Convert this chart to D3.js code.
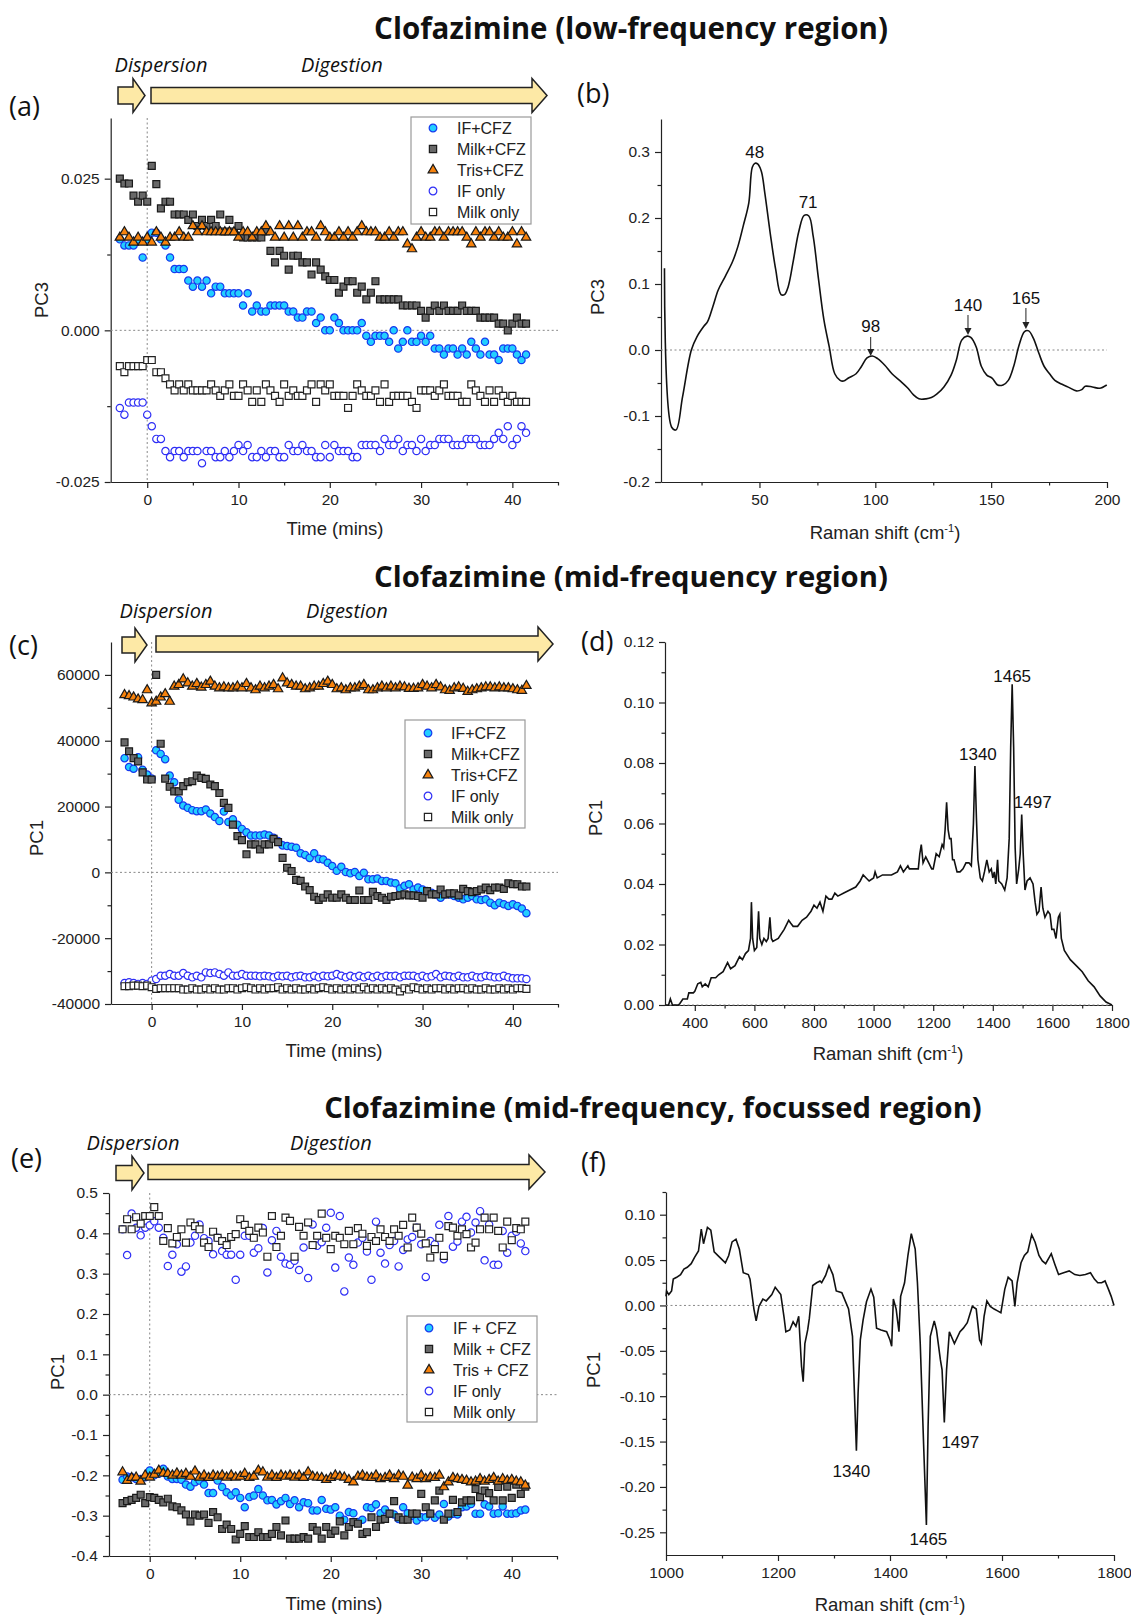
<!DOCTYPE html>
<html lang="en">
<head>
<meta charset="UTF-8" />
<title>Clofazimine PCA</title>
<script src="https://cdnjs.cloudflare.com/ajax/libs/d3/7.8.4/d3.min.js"></script>
<style>
  body { margin: 0; background: #fff; }
  svg { display: block; font-family: "Liberation Sans", Arial, sans-serif; }
  .axis path, .axis line { stroke: #222; stroke-width: 1.2px; }
  .axis text { font-size: 15.5px; fill: #222; font-family: "Liberation Sans", Arial, sans-serif; }
  .zero { stroke: #888; stroke-width: 1px; stroke-dasharray: 2,2.5; fill: none; }
  .title { font-family: "Open Sans", sans-serif; font-weight: bold; font-size: 28px; fill: #111; }
  .plabel { font-family: "Open Sans", sans-serif; font-size: 27px; fill: #111; }
  .phase { font-family: "Open Sans", sans-serif; font-style: italic; font-size: 20px; fill: #111; }
  .atitle { font-size: 18.5px; fill: #222; }
  .legend text { font-size: 16px; fill: #222; }
  .peak { font-size: 17px; fill: #111; }
  .spec { fill: none; stroke: #111; stroke-width: 1.6px; }
  .arrow { fill: #fde9a6; stroke: #222; stroke-width: 1.5px; }
</style>
</head>
<body>
<svg width="1131" height="1615"></svg>
<script>
// sampling times (min) shared by the three time-course panels
const timeMin = [-3,-2.5,-2,-1.5,-1,-0.5,0,0.5,1,1.5,2,2.5,3,3.5,4,4.5,5,5.5,6,6.5,7,7.5,8,8.5,9,9.5,10,10.5,11,11.5,
  12,12.5,13,13.5,14,14.5,15,15.5,16,16.5,17,17.5,18,18.5,19,19.5,20,20.5,21,21.5,22,22.5,23,23.5,24,24.5,25,25.5,26,26.5,
  27,27.5,28,28.5,29,29.5,30,30.5,31,31.5,32,32.5,33,33.5,34,34.5,35,35.5,36,36.5,37,37.5,38,38.5,39,39.5,40,40.5,41,41.5];

// (a) PC3 scores, low-frequency region
const aIfCfz = [0.0150,0.0140,0.0140,0.0140,0.0150,0.0120,0.0150,0.0161,0.0161,0.0150,
  0.0140,0.0120,0.0101,0.0101,0.0101,0.0082,0.0072,0.0082,0.0072,0.0082,
  0.0061,0.0072,0.0072,0.0061,0.0061,0.0061,0.0061,0.0041,0.0061,0.0031,
  0.0041,0.0031,0.0031,0.0041,0.0041,0.0041,0.0041,0.0031,0.0031,0.0021,
  0.0021,0.0031,0.0031,0.0012,0.0021,0.0000,0.0000,0.0021,0.0012,0.0000,
  0.0000,0.0000,0.0000,0.0012,-0.0009,-0.0019,-0.0009,-0.0009,-0.0009,-0.0019,
  0.0000,-0.0030,-0.0019,0.0000,-0.0019,-0.0019,-0.0009,-0.0019,-0.0009,-0.0030,
  -0.0030,-0.0040,-0.0030,-0.0030,-0.0040,-0.0030,-0.0040,-0.0019,-0.0030,-0.0040,
  -0.0019,-0.0040,-0.0040,-0.0049,-0.0030,-0.0030,-0.0030,-0.0040,-0.0049,-0.0040];
const aMilkCfz = [0.0250,0.0242,0.0242,0.0222,0.0212,0.0222,0.0212,0.0271,0.0241,0.0201,
  0.0212,0.0212,0.0191,0.0191,0.0191,0.0182,0.0191,0.0172,0.0182,0.0172,
  0.0182,0.0172,0.0191,0.0163,0.0182,0.0163,0.0172,0.0153,0.0153,0.0153,
  0.0153,0.0153,0.0163,0.0131,0.0112,0.0131,0.0123,0.0100,0.0123,0.0123,
  0.0112,0.0112,0.0092,0.0112,0.0100,0.0089,0.0083,0.0083,0.0062,0.0072,
  0.0081,0.0081,0.0062,0.0072,0.0051,0.0062,0.0081,0.0051,0.0051,0.0051,
  0.0051,0.0051,0.0041,0.0041,0.0041,0.0041,0.0032,0.0021,0.0032,0.0041,
  0.0032,0.0041,0.0032,0.0032,0.0032,0.0041,0.0032,0.0032,0.0032,0.0021,
  0.0021,0.0021,0.0021,0.0011,0.0011,0.0000,0.0011,0.0021,0.0011,0.0011];
const aTrisCfz = [0.0153,0.0162,0.0153,0.0145,0.0153,0.0145,0.0153,0.0145,0.0162,0.0153,
  0.0145,0.0153,0.0153,0.0162,0.0153,0.0153,0.0172,0.0162,0.0172,0.0162,
  0.0162,0.0162,0.0162,0.0162,0.0162,0.0162,0.0153,0.0162,0.0162,0.0153,
  0.0162,0.0162,0.0172,0.0162,0.0153,0.0172,0.0153,0.0172,0.0153,0.0172,
  0.0153,0.0162,0.0162,0.0153,0.0172,0.0162,0.0153,0.0153,0.0162,0.0153,
  0.0162,0.0153,0.0162,0.0172,0.0162,0.0162,0.0162,0.0153,0.0153,0.0162,
  0.0153,0.0162,0.0162,0.0142,0.0134,0.0153,0.0162,0.0153,0.0153,0.0162,
  0.0162,0.0153,0.0162,0.0162,0.0162,0.0162,0.0153,0.0142,0.0162,0.0153,
  0.0162,0.0162,0.0153,0.0162,0.0153,0.0153,0.0162,0.0142,0.0162,0.0153];
const aIfOnly = [-0.0128,-0.0139,-0.0119,-0.0119,-0.0119,-0.0119,-0.0139,-0.0158,-0.0179,-0.0179,
  -0.0199,-0.0209,-0.0199,-0.0199,-0.0209,-0.0199,-0.0199,-0.0199,-0.0219,-0.0199,
  -0.0199,-0.0209,-0.0209,-0.0199,-0.0209,-0.0199,-0.0189,-0.0199,-0.0189,-0.0209,
  -0.0209,-0.0199,-0.0209,-0.0199,-0.0199,-0.0209,-0.0209,-0.0189,-0.0199,-0.0199,
  -0.0189,-0.0199,-0.0199,-0.0209,-0.0209,-0.0189,-0.0209,-0.0189,-0.0199,-0.0199,
  -0.0199,-0.0209,-0.0209,-0.0189,-0.0189,-0.0189,-0.0189,-0.0199,-0.0179,-0.0189,
  -0.0189,-0.0179,-0.0199,-0.0189,-0.0189,-0.0199,-0.0179,-0.0199,-0.0189,-0.0189,
  -0.0179,-0.0179,-0.0179,-0.0189,-0.0189,-0.0189,-0.0179,-0.0179,-0.0179,-0.0189,
  -0.0189,-0.0189,-0.0179,-0.0169,-0.0179,-0.0158,-0.0189,-0.0179,-0.0158,-0.0169];
const aMilkOnly = [-0.0059,-0.0069,-0.0059,-0.0059,-0.0059,-0.0059,-0.0049,-0.0049,-0.0069,-0.0069,
  -0.0079,-0.0089,-0.0099,-0.0089,-0.0099,-0.0089,-0.0099,-0.0099,-0.0099,-0.0099,
  -0.0089,-0.0099,-0.0108,-0.0099,-0.0089,-0.0108,-0.0108,-0.0089,-0.0099,-0.0118,
  -0.0099,-0.0118,-0.0089,-0.0099,-0.0108,-0.0118,-0.0089,-0.0108,-0.0099,-0.0108,
  -0.0108,-0.0099,-0.0089,-0.0118,-0.0089,-0.0099,-0.0089,-0.0108,-0.0108,-0.0108,
  -0.0128,-0.0108,-0.0089,-0.0099,-0.0108,-0.0108,-0.0099,-0.0118,-0.0089,-0.0118,
  -0.0108,-0.0108,-0.0108,-0.0108,-0.0118,-0.0128,-0.0099,-0.0099,-0.0099,-0.0108,
  -0.0099,-0.0089,-0.0108,-0.0108,-0.0108,-0.0118,-0.0118,-0.0089,-0.0099,-0.0108,
  -0.0118,-0.0099,-0.0118,-0.0099,-0.0108,-0.0118,-0.0108,-0.0118,-0.0118,-0.0118];

// (c) PC1 scores, mid-frequency region
const cIfCfz = [34700,32000,31500,35000,31200,29700,28500,37100,36000,34400,
  29400,27400,22100,20300,19600,18900,18600,18600,19100,17900,
  16800,15600,18500,15300,16100,14500,13200,12200,11200,11200,
  11200,11500,11200,10500,9500,8200,8000,7800,7500,5800,
  5300,4400,5800,4100,3900,2900,1900,500,1700,100,
  -300,100,-1100,-100,-2100,-2100,-1900,-2600,-2600,-3100,
  -3300,-4900,-4100,-3600,-5200,-4600,-5200,-5700,-6200,-6700,
  -7700,-6700,-6700,-7200,-7700,-8200,-7700,-7200,-8200,-8400,
  -8200,-9200,-10000,-9200,-9700,-10200,-9700,-10200,-11000,-12400];
const cMilkCfz = [39500,36800,34700,33700,30400,28200,28200,60000,39100,28500,
  26000,24600,24600,26200,27400,27700,29400,28700,28400,26700,
  26200,24100,21100,19600,14500,11000,9800,5500,8500,8500,
  7000,8500,8500,10200,9200,4400,1400,400,-2300,-2600,
  -4300,-5400,-7400,-8400,-7700,-6700,-7700,-7700,-6700,-7700,
  -8400,-8400,-5500,-8400,-8400,-5900,-7200,-7700,-8400,-7400,
  -7200,-7000,-6700,-7000,-7000,-7200,-7700,-5700,-6700,-6700,
  -5200,-6700,-6400,-6400,-7000,-5000,-5700,-6000,-5700,-5200,
  -4600,-5400,-4600,-4600,-5000,-3300,-3600,-3600,-4300,-4300];
const cTrisCfz = [53900,53600,53200,52600,52400,55400,51400,51900,53200,54200,
  51900,56500,57000,58700,57500,56500,57300,56200,57000,58000,
  56500,56000,56300,56000,56000,56500,56000,57300,56000,55400,
  56500,56000,56500,57000,55700,59000,57500,57000,56500,56500,
  55700,56000,56500,56500,57300,58000,57000,55700,56000,55400,
  56000,56000,56500,57000,55400,55400,56000,56500,56000,56500,
  56000,56500,56300,55800,55800,56000,57000,56500,56000,57000,
  56300,55400,55200,56000,56300,55800,54900,55400,55700,56000,
  56300,56300,56000,56300,56000,56000,55700,55400,55200,56700];
const cIfOnly = [-33600,-33400,-33600,-33900,-33600,-33900,-32900,-32400,-31400,-31400,
  -30900,-31400,-31400,-30600,-31400,-31900,-31400,-31900,-30400,-30600,
  -30400,-30900,-31400,-30400,-31400,-31400,-30900,-31400,-31400,-31400,
  -31600,-31400,-31600,-31900,-31400,-31600,-31400,-31900,-31600,-31400,
  -31900,-31900,-31400,-31900,-31400,-31600,-31400,-30900,-31400,-31900,
  -31400,-31900,-31400,-31900,-31400,-31900,-31400,-31900,-31400,-31600,
  -31400,-31900,-31400,-31400,-31400,-31900,-31400,-31900,-31600,-30900,
  -31900,-31400,-31600,-31900,-31400,-31900,-31900,-31400,-31900,-31900,
  -31400,-31600,-31900,-31900,-31400,-31900,-32200,-32200,-32200,-32400];
const cMilkOnly = [-34600,-34600,-34400,-34400,-34600,-34400,-34900,-35400,-35200,-35200,
  -35200,-35200,-35200,-35600,-35600,-35200,-35600,-35600,-35200,-35600,
  -35200,-35600,-35600,-35200,-35200,-35600,-35200,-34900,-35200,-35600,
  -35200,-35600,-35200,-35200,-34900,-35600,-35200,-35600,-35200,-35600,
  -35600,-35200,-35600,-35200,-34900,-35200,-35600,-35200,-35600,-35200,
  -35600,-35200,-35600,-34900,-35600,-35200,-35600,-35200,-35600,-35200,
  -35600,-36200,-35200,-35600,-34900,-35200,-35600,-35200,-35600,-35200,
  -35200,-35600,-35200,-35600,-35200,-35200,-35600,-35200,-35600,-35600,
  -35200,-35600,-35600,-35200,-35600,-35200,-35600,-35200,-35200,-35400];

// (e) PC1 scores, focussed mid-frequency region
const eIfCfz = [-0.211,-0.203,-0.205,-0.209,-0.209,-0.205,-0.188,-0.200,-0.196,-0.184,
  -0.203,-0.209,-0.209,-0.211,-0.223,-0.228,-0.217,-0.213,-0.223,-0.244,
  -0.244,-0.213,-0.229,-0.242,-0.250,-0.242,-0.256,-0.279,-0.254,-0.250,
  -0.234,-0.250,-0.262,-0.261,-0.272,-0.264,-0.256,-0.271,-0.262,-0.279,
  -0.267,-0.269,-0.287,-0.287,-0.261,-0.283,-0.285,-0.279,-0.300,-0.310,
  -0.291,-0.294,-0.316,-0.310,-0.279,-0.281,-0.272,-0.294,-0.285,-0.295,
  -0.297,-0.308,-0.279,-0.294,-0.300,-0.312,-0.304,-0.304,-0.295,-0.305,
  -0.297,-0.271,-0.302,-0.295,-0.297,-0.279,-0.277,-0.271,-0.295,-0.295,
  -0.272,-0.277,-0.295,-0.294,-0.277,-0.295,-0.295,-0.294,-0.287,-0.285];
const eMilkCfz = [-0.269,-0.264,-0.261,-0.256,-0.248,-0.269,-0.254,-0.256,-0.261,-0.267,
  -0.258,-0.277,-0.279,-0.287,-0.297,-0.314,-0.297,-0.300,-0.297,-0.318,
  -0.291,-0.304,-0.333,-0.322,-0.333,-0.359,-0.345,-0.326,-0.353,-0.353,
  -0.341,-0.353,-0.353,-0.345,-0.328,-0.349,-0.312,-0.357,-0.357,-0.357,
  -0.353,-0.357,-0.328,-0.337,-0.357,-0.328,-0.345,-0.337,-0.314,-0.349,
  -0.328,-0.316,-0.320,-0.345,-0.341,-0.304,-0.328,-0.310,-0.308,-0.295,
  -0.264,-0.304,-0.310,-0.310,-0.295,-0.295,-0.246,-0.279,-0.295,-0.262,
  -0.238,-0.310,-0.295,-0.261,-0.291,-0.267,-0.262,-0.262,-0.234,-0.254,
  -0.238,-0.244,-0.262,-0.229,-0.262,-0.228,-0.256,-0.223,-0.246,-0.228];
const eTrisCfz = [-0.192,-0.213,-0.206,-0.205,-0.215,-0.200,-0.205,-0.198,-0.188,-0.195,
  -0.196,-0.200,-0.195,-0.200,-0.196,-0.203,-0.190,-0.205,-0.200,-0.206,
  -0.200,-0.203,-0.200,-0.205,-0.200,-0.205,-0.203,-0.196,-0.206,-0.203,
  -0.188,-0.192,-0.205,-0.200,-0.206,-0.200,-0.203,-0.200,-0.205,-0.200,
  -0.206,-0.192,-0.203,-0.205,-0.206,-0.211,-0.206,-0.200,-0.203,-0.205,
  -0.211,-0.217,-0.203,-0.200,-0.205,-0.206,-0.200,-0.209,-0.206,-0.200,
  -0.209,-0.200,-0.203,-0.225,-0.205,-0.209,-0.200,-0.209,-0.205,-0.206,
  -0.200,-0.229,-0.217,-0.206,-0.209,-0.211,-0.213,-0.217,-0.215,-0.209,
  -0.215,-0.211,-0.206,-0.215,-0.209,-0.213,-0.211,-0.215,-0.217,-0.225];
const eIfOnly = [0.410,0.346,0.449,0.414,0.395,0.414,0.420,0.430,0.414,0.389,
  0.319,0.347,0.373,0.305,0.318,0.377,0.394,0.422,0.388,0.381,
  0.348,0.389,0.356,0.347,0.347,0.285,0.347,0.394,0.394,0.352,
  0.363,0.413,0.303,0.383,0.406,0.342,0.325,0.322,0.332,0.309,
  0.365,0.289,0.422,0.369,0.378,0.414,0.451,0.315,0.443,0.256,
  0.340,0.322,0.377,0.389,0.355,0.285,0.429,0.352,0.325,0.371,
  0.381,0.318,0.359,0.385,0.391,0.414,0.373,0.292,0.381,0.373,
  0.421,0.336,0.443,0.367,0.380,0.429,0.441,0.402,0.427,0.455,
  0.333,0.422,0.322,0.322,0.406,0.352,0.394,0.404,0.375,0.356];
const eMilkOnly = [0.410,0.435,0.410,0.440,0.424,0.443,0.443,0.465,0.443,0.381,
  0.413,0.375,0.391,0.410,0.377,0.427,0.418,0.410,0.377,0.366,
  0.404,0.389,0.381,0.371,0.391,0.398,0.435,0.421,0.406,0.389,
  0.414,0.402,0.342,0.443,0.366,0.394,0.439,0.431,0.342,0.416,
  0.394,0.427,0.371,0.394,0.449,0.389,0.361,0.394,0.389,0.373,
  0.406,0.373,0.413,0.399,0.369,0.391,0.381,0.410,0.391,0.381,
  0.410,0.394,0.421,0.365,0.439,0.414,0.399,0.375,0.340,0.361,
  0.389,0.344,0.418,0.414,0.394,0.410,0.398,0.365,0.377,0.410,
  0.439,0.410,0.439,0.406,0.365,0.429,0.383,0.413,0.410,0.429];

// (b) PC3 loading, low-frequency region
const bShift = [9.0,12.1,14.0,16.8,20.6,23,26,27.6,29.9,32.2,35.3,38.4,40.7,43.0,45.4,46.9,48.1,49.2,50.8,52.3,
  54.6,57.0,59.3,60.8,62.4,64.7,67.0,69.3,71.3,73.2,75.5,77.8,80.1,82.5,84.8,86.3,88.6,91.7,94.0,96.4,
  98.7,101.0,104.1,107.2,111.1,114.1,116.5,118.8,121.9,124.2,126.5,129.6,132.7,135.0,137.3,139.6,141.2,143.5,145.8,148.1,
  150.5,152.8,155.1,157.4,159.7,162.1,164.4,166.2,168.2,170.6,172.9,175.2,177.5,180.6,183.7,186.8,189.1,190.6,193.7,196.8,199.9];
const bPc3 = [0.124,-0.117,-0.121,-0.071,0.0,0.02,0.036,0.043,0.066,0.091,0.112,0.134,0.157,0.188,0.223,0.277,0.283,0.282,0.271,0.238,
  0.178,0.122,0.084,0.084,0.096,0.137,0.18,0.204,0.203,0.172,0.107,0.046,0.005,-0.036,-0.046,-0.047,-0.042,-0.036,-0.025,-0.012,
  -0.009,-0.013,-0.023,-0.036,-0.048,-0.058,-0.068,-0.074,-0.074,-0.072,-0.067,-0.056,-0.038,-0.015,0.015,0.021,0.019,0.005,-0.025,-0.038,
  -0.043,-0.053,-0.053,-0.046,-0.025,0.008,0.028,0.029,0.018,-0.005,-0.025,-0.036,-0.046,-0.052,-0.057,-0.062,-0.06,-0.055,-0.056,-0.058,-0.053];

// (d) PC1 loading, mid-frequency region
const dShift = [300,312,318,325,345,350,360,375,380,395,400,410,420,425,435,445,455,470,480,495,
  510,520,535,550,560,570,580,587,590,594,600,608,614,618,625,632,640,646,652,657,
  662,680,700,715,722,730,745,760,775,790,800,810,820,830,840,850,860,870,880,900,
  920,940,955,965,975,985,1000,1005,1012,1030,1060,1080,1090,1100,1115,1120,1140,1150,1155,1160,
  1166,1175,1185,1195,1200,1210,1220,1230,1235,1240,1245,1250,1255,1260,1265,1270,1280,1290,1300,1310,
  1320,1328,1335,1340,1345,1350,1358,1365,1372,1380,1388,1395,1400,1405,1410,1416,1420,1430,1440,1448,
  1455,1460,1465,1470,1475,1480,1487,1492,1497,1502,1508,1515,1525,1535,1542,1548,1555,1562,1568,1575,
  1585,1592,1598,1605,1612,1620,1625,1630,1640,1660,1680,1700,1720,1740,1760,1780,1790,1800];
const dPc1 = [0.000,0.000,0.002,0.000,0.000,0.0005,0.002,0.002,0.004,0.004,0.0045,0.007,0.0075,0.006,0.007,0.006,0.009,0.009,0.010,0.011,
  0.014,0.012,0.013,0.016,0.015,0.017,0.018,0.022,0.034,0.022,0.018,0.019,0.031,0.022,0.020,0.022,0.021,0.022,0.029,0.022,
  0.021,0.022,0.025,0.028,0.027,0.026,0.026,0.028,0.029,0.031,0.033,0.032,0.034,0.031,0.036,0.035,0.035,0.037,0.036,0.037,
  0.038,0.039,0.041,0.043,0.042,0.041,0.042,0.044,0.042,0.043,0.043,0.044,0.046,0.044,0.046,0.045,0.045,0.045,0.050,0.053,
  0.047,0.049,0.047,0.045,0.045,0.050,0.049,0.053,0.052,0.058,0.067,0.058,0.055,0.055,0.048,0.048,0.044,0.044,0.045,0.047,
  0.047,0.046,0.060,0.079,0.062,0.048,0.042,0.041,0.044,0.048,0.044,0.045,0.042,0.044,0.040,0.048,0.041,0.040,0.038,0.042,
  0.055,0.085,0.106,0.085,0.052,0.040,0.045,0.050,0.063,0.050,0.038,0.041,0.042,0.040,0.034,0.030,0.031,0.039,0.032,0.029,
  0.031,0.030,0.025,0.025,0.022,0.029,0.030,0.022,0.018,0.015,0.013,0.011,0.008,0.006,0.003,0.001,0.0005,0.000];

// (f) PC1 loading, focussed region
const fShift = [1000,1001,1005,1010,1013,1019,1026,1032,1038,1045,1051,1058,1063,1067,1074,1080,1086,1096,1106,1112,
  1118,1125,1131,1138,1147,1150,1157,1161,1166,1173,1179,1189,1195,1205,1211,1214,1221,1227,1232,1237,
  1242,1245,1248,1253,1256,1262,1269,1275,1278,1285,1291,1298,1304,1314,1320,1326,1333,1340,1343,1347,
  1352,1358,1366,1371,1376,1384,1394,1400,1403,1406,1411,1416,1419,1426,1432,1438,1445,1449,1454,1460,
  1465,1468,1472,1479,1483,1490,1493,1497,1501,1506,1515,1525,1531,1538,1547,1554,1560,1563,1568,1573,
  1579,1586,1592,1598,1605,1611,1618,1623,1627,1634,1640,1646,1653,1659,1666,1672,1678,1688,1694,1701,
  1710,1720,1730,1739,1749,1758,1765,1771,1778,1784,1790,1795,1800];
const fPc1 = [0.010,0.016,0.012,0.016,0.029,0.031,0.034,0.040,0.042,0.046,
  0.053,0.060,0.084,0.068,0.086,0.083,0.059,0.053,0.047,0.055,
  0.070,0.073,0.062,0.036,0.034,0.029,-0.004,-0.017,-0.001,0.007,
  0.005,0.012,0.020,0.012,-0.014,-0.029,-0.027,-0.018,-0.023,-0.012,
  -0.067,-0.084,-0.042,-0.027,-0.014,0.022,0.025,0.027,0.025,0.033,
  0.044,0.034,0.016,0.014,0.005,-0.004,-0.034,-0.160,-0.097,-0.038,
  -0.016,0.004,0.018,0.009,-0.025,-0.027,-0.029,-0.038,-0.045,0.007,
  -0.004,-0.029,0.010,0.025,0.055,0.079,0.062,0.025,-0.042,-0.153,
  -0.242,-0.134,-0.034,-0.017,-0.027,-0.060,-0.071,-0.129,-0.071,-0.029,
  -0.042,-0.029,-0.025,-0.019,-0.001,-0.004,-0.038,-0.042,-0.012,0.005,
  -0.001,-0.004,-0.006,-0.008,0.018,0.031,0.027,-0.001,0.025,0.047,
  0.055,0.059,0.078,0.070,0.055,0.049,0.046,0.057,0.046,0.034,
  0.036,0.038,0.034,0.033,0.034,0.036,0.029,0.025,0.025,0.027,
  0.018,0.010,0.000];

const namesAC = ["IF+CFZ", "Milk+CFZ", "Tris+CFZ", "IF only", "Milk only"];
const namesE = ["IF + CFZ", "Milk + CFZ", "Tris + CFZ", "IF only", "Milk only"];
const timeTicks = [0, 10, 20, 30, 40];
const timeMinor = [5, 15, 25, 35, 45];

const markStyle = [
  { shape: d3.symbolCircle, size: 42, fill: "#22cfff", stroke: "#1638ee" },
  { shape: d3.symbolSquare, size: 48, fill: "#686868", stroke: "#1a1a1a" },
  { shape: d3.symbolTriangle, size: 38, fill: "#f7820c", stroke: "#1a1a1a" },
  { shape: d3.symbolCircle, size: 42, fill: "#ffffff", stroke: "#2e2ef5" },
  { shape: d3.symbolSquare, size: 48, fill: "#ffffff", stroke: "#222222" }
];

const svg = d3.select("svg");
const loc = d3.formatLocale({ decimal: ".", thousands: ",", grouping: [3], currency: ["", ""], minus: "-" });

function fitWidth(sel, width) {
  const w = sel.node().getComputedTextLength();
  const fs = parseFloat(sel.style("font-size"));
  sel.style("font-size", (fs * width / w) + "px");
}

function drawAxes(p, x, y) {
  const g = svg.append("g");
  const xf = p.xFormat ? loc.format(p.xFormat) : loc.format("d");
  g.append("g").attr("class", "axis").attr("transform", `translate(0,${p.bottom})`)
    .call(d3.axisBottom(x).tickValues(p.xTicks).tickSize(6).tickPadding(6).tickSizeOuter(0).tickFormat(xf));
  g.append("g").attr("class", "axis").attr("transform", `translate(0,${p.bottom})`)
    .call(d3.axisBottom(x).tickValues(p.xMinor).tickSize(3.5).tickSizeOuter(0).tickFormat(""))
    .call(a => a.select(".domain").remove());
  g.append("g").attr("class", "axis").attr("transform", `translate(${p.left},0)`)
    .call(d3.axisLeft(y).tickValues(p.yTicks).tickSize(6).tickPadding(5).tickSizeOuter(0).tickFormat(loc.format(p.yFormat)));
  g.append("g").attr("class", "axis").attr("transform", `translate(${p.left},0)`)
    .call(d3.axisLeft(y).tickValues(p.yMinor).tickSize(3.5).tickSizeOuter(0).tickFormat(""))
    .call(a => a.select(".domain").remove());
  // dotted zero line
  g.append("line").attr("class", "zero")
    .attr("x1", p.left).attr("x2", p.right).attr("y1", y(0)).attr("y2", y(0));

  // axis titles
  const xt = g.append("text").attr("class", "atitle").attr("text-anchor", "middle")
    .attr("x", p.xTitle[0]).attr("y", p.xTitle[1]);
  if (p.raman) {
    xt.append("tspan").text("Raman shift (cm");
    xt.append("tspan").attr("dy", -7).style("font-size", "11px").text("-1");
    xt.append("tspan").attr("dy", 7).text(")");
  } else {
    xt.text("Time (mins)");
  }
  g.append("text").attr("class", "atitle").attr("text-anchor", "middle")
    .attr("transform", `translate(${p.yTitle[0]},${p.yTitle[1]}) rotate(-90)`)
    .text(p.yLabel);

  g.append("text").attr("class", "plabel").attr("x", p.tag[0]).attr("y", p.tag[1]).text(p.tagText);
}

function blockArrow(a) {
  const bt = a.cy - a.bodyH / 2, bb = a.cy + a.bodyH / 2;
  const ht = a.cy - a.headH / 2, hb = a.cy + a.headH / 2, hx = a.x1 - a.headW;
  return `M${a.x0},${bt}L${hx},${bt}L${hx},${ht}L${a.x1},${a.cy}L${hx},${hb}L${hx},${bb}L${a.x0},${bb}Z`;
}

function timePanel(p) {
  const x = d3.scaleLinear().domain(p.xDomain).range([p.left, p.right]);
  const y = d3.scaleLinear().domain(p.yDomain).range([p.bottom, p.top]);
  p.xTicks = timeTicks; p.xMinor = timeMinor;
  drawAxes(p, x, y);

  // t = 0 marker
  svg.append("line").attr("class", "zero")
    .attr("x1", x(0)).attr("x2", x(0)).attr("y1", p.top).attr("y2", p.bottom);

  // dispersion / digestion arrows
  svg.append("path").attr("class", "arrow").attr("d", blockArrow(p.arrowSmall));
  svg.append("path").attr("class", "arrow").attr("d", blockArrow(p.arrowLarge));
  svg.append("text").attr("class", "phase").attr("text-anchor", "middle")
    .attr("x", p.phaseX[0]).attr("y", p.phaseY).text("Dispersion");
  svg.append("text").attr("class", "phase").attr("text-anchor", "middle")
    .attr("x", p.phaseX[1]).attr("y", p.phaseY).text("Digestion");

  p.series.forEach((vals, k) => {
    const st = markStyle[k];
    const sym = d3.symbol().type(st.shape).size(st.size);
    svg.append("g").selectAll("path")
      .data(vals.map((v, i) => [timeMin[i], v]))
      .join("path")
      .attr("d", sym)
      .attr("transform", d => `translate(${x(d[0])},${y(d[1])})`)
      .attr("fill", st.fill).attr("stroke", st.stroke).attr("stroke-width", 1.2);
  });

  // legend
  const L = p.legend;
  const lg = svg.append("g").attr("class", "legend");
  lg.append("rect").attr("x", L.x).attr("y", L.y).attr("width", L.w).attr("height", L.h)
    .attr("fill", "#fff").attr("stroke", "#9a9a9a").attr("stroke-width", 1.2);
  p.names.forEach((name, k) => {
    const st = markStyle[k];
    const cy = L.row0 + k * L.step;
    lg.append("path").attr("d", d3.symbol().type(st.shape).size(st.size * 1.1))
      .attr("transform", `translate(${L.mx},${cy})`)
      .attr("fill", st.fill).attr("stroke", st.stroke).attr("stroke-width", 1.2);
    lg.append("text").attr("x", L.tx).attr("y", cy + 5.5).text(name);
  });
}

function spectrumPanel(p) {
  const x = d3.scaleLinear().domain(p.xDomain).range([p.left, p.right]);
  const y = d3.scaleLinear().domain(p.yDomain).range([p.bottom, p.top]);
  p.raman = true;
  drawAxes(p, x, y);
  const line = d3.line().x(d => x(d[0])).y(d => y(d[1]));
  if (p.smooth) line.curve(d3.curveCatmullRom.alpha(0.5));
  svg.append("path").attr("class", "spec")
    .attr("d", line(p.xs.map((v, i) => [v, p.ys[i]])));
  p.peaks.forEach(pk => {
    svg.append("text").attr("class", "peak").attr("text-anchor", "middle")
      .attr("x", x(pk.at) + (pk.dx || 0)).attr("y", pk.ly).text(pk.label);
    if (pk.arrow) {
      svg.append("line").attr("x1", x(pk.at)).attr("x2", x(pk.at))
        .attr("y1", pk.arrow[0]).attr("y2", pk.arrow[1] - 5)
        .attr("stroke", "#222").attr("stroke-width", 1);
      svg.append("path")
        .attr("d", `M${x(pk.at) - 3.5},${pk.arrow[1] - 7}L${x(pk.at) + 3.5},${pk.arrow[1] - 7}L${x(pk.at)},${pk.arrow[1]}Z`)
        .attr("fill", "#222");
    }
  });
}

// ---- titles
[["Clofazimine (low-frequency region)", 631, 39, 514],
 ["Clofazimine (mid-frequency region)", 631, 587, 514],
 ["Clofazimine (mid-frequency, focussed region)", 653, 1118, 658]].forEach(t => {
  const s = svg.append("text").attr("class", "title").attr("text-anchor", "middle")
    .attr("x", t[1]).attr("y", t[2]).text(t[0]);
  fitWidth(s, t[3]);
});

// ---- panel (a)
timePanel({
  left: 110.7, right: 558, top: 118, bottom: 482, xDomain: [-4, 45],
  yDomain: [-0.025, 0.035], yTicks: [-0.025, 0, 0.025], yMinor: [-0.0125, 0.0125], yFormat: ".3f",
  yLabel: "PC3", xTitle: [335, 535], yTitle: [48, 300], tag: [9, 116], tagText: "(a)",
  series: [aIfCfz, aMilkCfz, aTrisCfz, aIfOnly, aMilkOnly], names: namesAC,
  legend: { x: 411, y: 117, w: 120, h: 107, row0: 128, step: 21, mx: 433, tx: 457 },
  arrowSmall: { x0: 118, x1: 145, cy: 95.5, bodyH: 17, headH: 34, headW: 12 },
  arrowLarge: { x0: 151, x1: 547, cy: 95.5, bodyH: 16, headH: 34, headW: 15 },
  phaseX: [161, 342], phaseY: 72
});

// ---- panel (c)
timePanel({
  left: 111, right: 558, top: 642, bottom: 1004, xDomain: [-4.5, 45],
  yDomain: [-40000, 70000], yTicks: [-40000, -20000, 0, 20000, 40000, 60000],
  yMinor: [-30000, -10000, 10000, 30000, 50000], yFormat: "d",
  yLabel: "PC1", xTitle: [334, 1057], yTitle: [43, 838], tag: [9, 655], tagText: "(c)",
  series: [cIfCfz, cMilkCfz, cTrisCfz, cIfOnly, cMilkOnly], names: namesAC,
  legend: { x: 405, y: 720, w: 120, h: 108, row0: 733, step: 21, mx: 428, tx: 451 },
  arrowSmall: { x0: 122, x1: 147, cy: 645, bodyH: 16, headH: 34, headW: 12 },
  arrowLarge: { x0: 156, x1: 553, cy: 644, bodyH: 16, headH: 34, headW: 15 },
  phaseX: [166, 347], phaseY: 618
});

// ---- panel (e)
timePanel({
  left: 109, right: 557, top: 1193, bottom: 1556, xDomain: [-4.5, 45],
  yDomain: [-0.4, 0.5], yTicks: [-0.4, -0.3, -0.2, -0.1, 0, 0.1, 0.2, 0.3, 0.4, 0.5],
  yMinor: [-0.35, -0.25, -0.15, -0.05, 0.05, 0.15, 0.25, 0.35, 0.45], yFormat: ".1f",
  yLabel: "PC1", xTitle: [334, 1610], yTitle: [64, 1372], tag: [11, 1168], tagText: "(e)",
  series: [eIfCfz, eMilkCfz, eTrisCfz, eIfOnly, eMilkOnly], names: namesE,
  legend: { x: 407, y: 1316, w: 130, h: 106, row0: 1328, step: 21, mx: 429, tx: 453 },
  arrowSmall: { x0: 116, x1: 144, cy: 1173, bodyH: 15, headH: 34, headW: 12 },
  arrowLarge: { x0: 148, x1: 545, cy: 1172, bodyH: 15, headH: 34, headW: 16 },
  phaseX: [133, 331], phaseY: 1150
});

// ---- panel (b)
spectrumPanel({
  left: 661, right: 1107, top: 119, bottom: 482, xDomain: [7.5, 200], yDomain: [-0.2, 0.35],
  xTicks: [50, 100, 150, 200], xMinor: [25, 75, 125, 175],
  yTicks: [-0.2, -0.1, 0, 0.1, 0.2, 0.3], yMinor: [-0.15, -0.05, 0.05, 0.15, 0.25], yFormat: ".1f",
  yLabel: "PC3", xTitle: [885, 539], yTitle: [604, 297], tag: [577, 103], tagText: "(b)",
  xs: bShift, ys: bPc3, smooth: true,
  peaks: [
    { label: "48", at: 48, ly: 158 },
    { label: "71", at: 71, ly: 208 },
    { label: "98", at: 98, ly: 332, arrow: [337, 356] },
    { label: "140", at: 140, ly: 311, arrow: [315, 335] },
    { label: "165", at: 165, ly: 304, arrow: [308, 329] }
  ]
});

// ---- panel (d)
spectrumPanel({
  left: 665, right: 1112, top: 642, bottom: 1005, xDomain: [300, 1800], yDomain: [0, 0.12],
  xTicks: [400, 600, 800, 1000, 1200, 1400, 1600, 1800], xMinor: [500, 700, 900, 1100, 1300, 1500, 1700],
  yTicks: [0, 0.02, 0.04, 0.06, 0.08, 0.10, 0.12], yMinor: [0.01, 0.03, 0.05, 0.07, 0.09, 0.11], yFormat: ".2f",
  yLabel: "PC1", xTitle: [888, 1060], yTitle: [602, 818], tag: [581, 651], tagText: "(d)",
  xs: dShift, ys: dPc1,
  peaks: [
    { label: "1465", at: 1465, ly: 682 },
    { label: "1340", at: 1340, dx: 3, ly: 760 },
    { label: "1497", at: 1497, dx: 11, ly: 808 }
  ]
});

// ---- panel (f)
spectrumPanel({
  left: 666, right: 1114, top: 1192, bottom: 1555, xDomain: [1000, 1800], yDomain: [-0.275, 0.125],
  xTicks: [1000, 1200, 1400, 1600, 1800], xMinor: [1100, 1300, 1500, 1700],
  yTicks: [-0.25, -0.2, -0.15, -0.1, -0.05, 0, 0.05, 0.1],
  yMinor: [-0.225, -0.175, -0.125, -0.075, -0.025, 0.025, 0.075, 0.125], yFormat: ".2f",
  yLabel: "PC1", xTitle: [890, 1611], yTitle: [600, 1370], tag: [581, 1172], tagText: "(f)",
  xs: fShift, ys: fPc1,
  peaks: [
    { label: "1340", at: 1340, dx: -5, ly: 1477 },
    { label: "1465", at: 1465, dx: 2, ly: 1545 },
    { label: "1497", at: 1497, dx: 16, ly: 1448 }
  ]
});
</script>
</body>
</html>
